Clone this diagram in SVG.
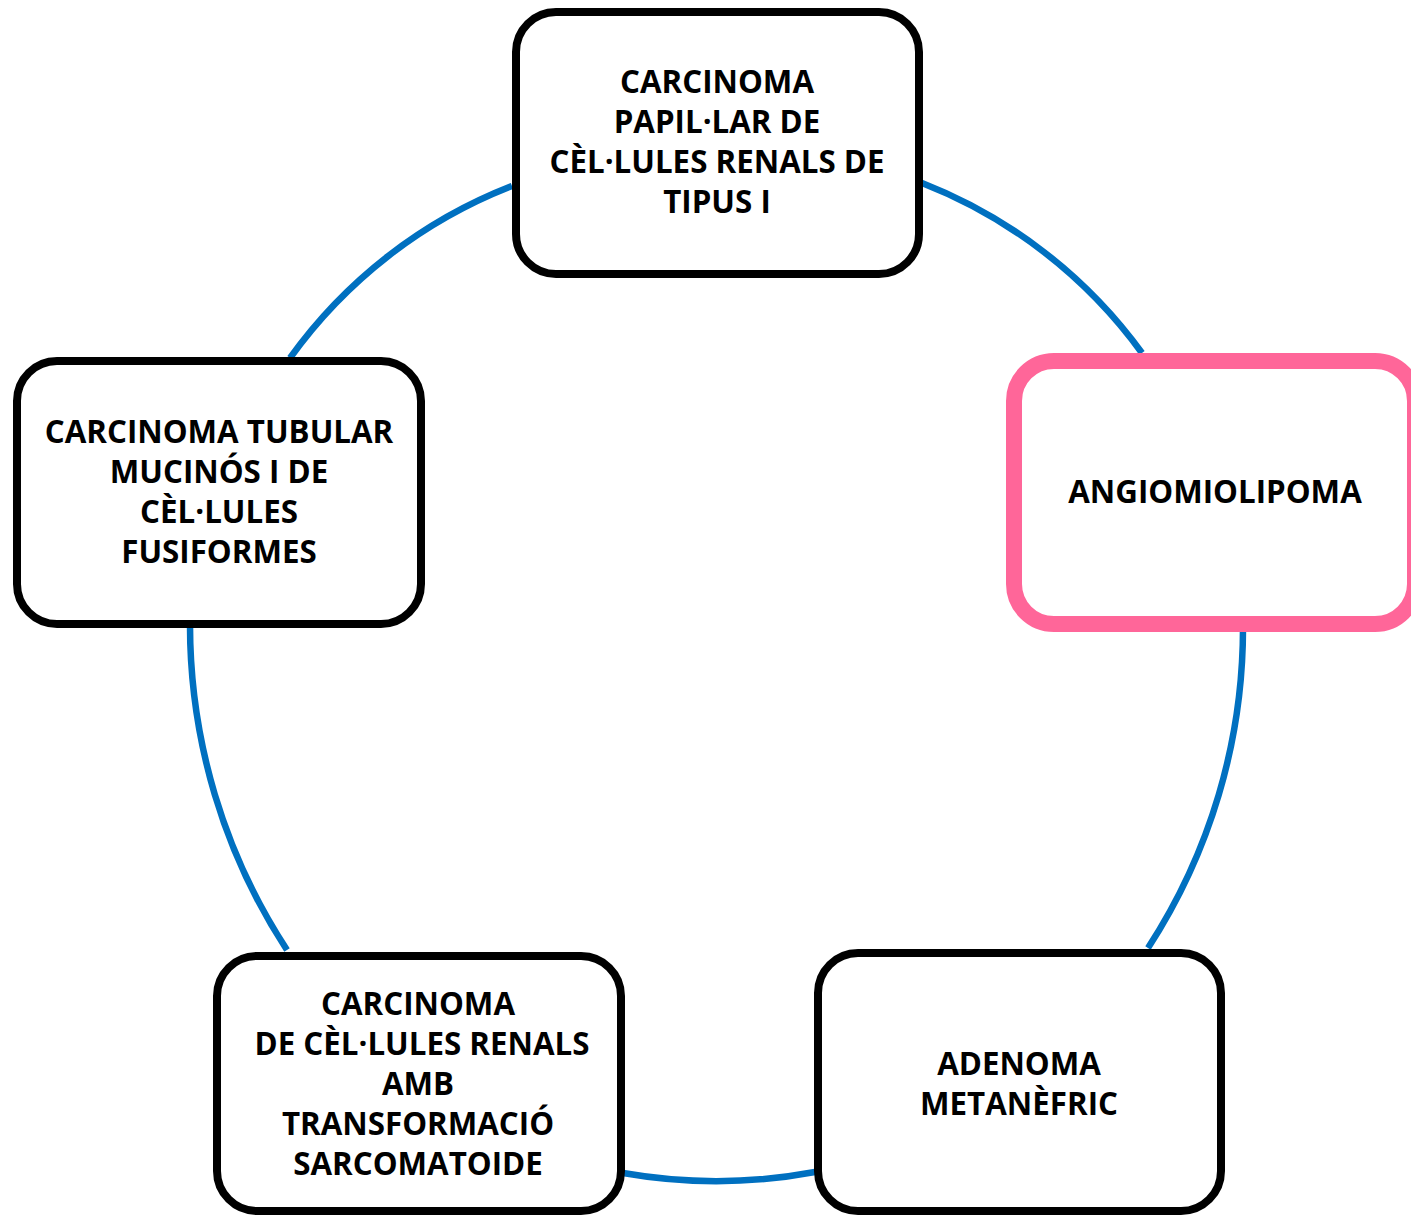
<svg xmlns="http://www.w3.org/2000/svg" width="1411" height="1215" viewBox="0 0 1411 1215">
<style>
.arc{fill:none;stroke:#0070C0;stroke-width:6.5}
.box{fill:#fff;stroke:#000;stroke-width:8}
.pink{fill:#fff;stroke:#FF6699;stroke-width:16}
text{font-family:"Open Sans","Noto Sans","Liberation Sans",sans-serif;font-weight:bold;font-size:31.3px;fill:#000;text-anchor:middle}
</style>
<rect width="1411" height="1215" fill="#fff"/>
<g id="connectors">
<path class="arc" d="M290,358 A492,492 0 0 1 512,186"/>
<path class="arc" d="M922,183 A494,494 0 0 1 1142,353"/>
<path class="arc" d="M1243,628 A587,587 0 0 1 1148,948"/>
<path class="arc" d="M815,1172 A540,540 0 0 1 623,1173"/>
<path class="arc" d="M287,950 A594,594 0 0 1 190,625"/>
</g>
<g id="node-top">
<rect class="box" x="516" y="12" width="403" height="262" rx="40"/>
<text x="717" y="93">CARCINOMA</text>
<text x="717" y="133">PAPIL·LAR DE</text>
<text x="717" y="173">CÈL·LULES RENALS DE</text>
<text x="717" y="213">TIPUS I</text>
</g>
<g id="node-right">
<rect class="pink" x="1014" y="361" width="401" height="263" rx="40"/>
<text x="1215" y="503">ANGIOMIOLIPOMA</text>
</g>
<g id="node-bottom-right">
<rect class="box" x="818" y="953" width="403" height="258" rx="40"/>
<text x="1019" y="1075">ADENOMA</text>
<text x="1019" y="1115">METANÈFRIC</text>
</g>
<g id="node-bottom-left">
<rect class="box" x="217" y="956" width="404" height="255" rx="40"/>
<text x="418" y="1015">CARCINOMA</text>
<text x="422" y="1055">DE CÈL·LULES RENALS</text>
<text x="418" y="1095">AMB</text>
<text x="418" y="1135">TRANSFORMACIÓ</text>
<text x="418" y="1175">SARCOMATOIDE</text>
</g>
<g id="node-left">
<rect class="box" x="17" y="361" width="404" height="263" rx="40"/>
<text x="219" y="443">CARCINOMA TUBULAR</text>
<text x="219" y="483">MUCINÓS I DE</text>
<text x="219" y="523">CÈL·LULES</text>
<text x="219" y="563">FUSIFORMES</text>
</g>
</svg>
